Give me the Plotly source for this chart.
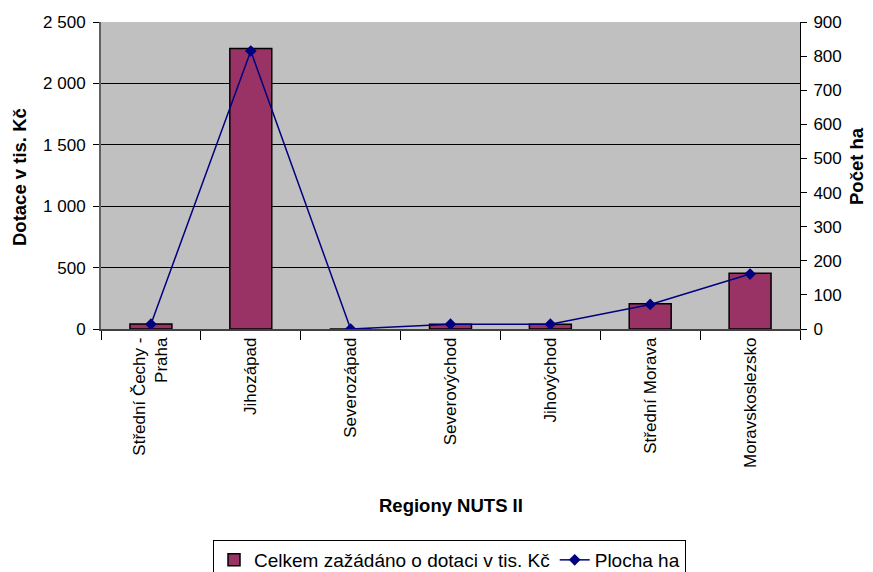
import plotly.graph_objects as go

categories = ["Střední Čechy -<br>Praha", "Jihozápad", "Severozápad", "Severovýchod",
              "Jihovýchod", "Střední Morava", "Moravskoslezsko"]
dotace = [40, 2285, 0, 38, 38, 205, 455]      # Celkem zažádáno o dotaci v tis. Kč
plocha = [14, 815, 0, 14, 14, 72, 161]         # Plocha ha
left_ticks = [0, 500, 1000, 1500, 2000, 2500]
left_tick_labels = ["0", "500", "1 000", "1 500", "2 000", "2 500"]
right_ticks = [0, 100, 200, 300, 400, 500, 600, 700, 800, 900]

FONT = "Liberation Sans, Arial, sans-serif"

fig = go.Figure()
fig.add_trace(go.Bar(
    x=categories, y=dotace, name="Celkem zažádáno o dotaci v tis. Kč",
    marker=dict(color="#993366", line=dict(color="#000000", width=1.5)),
    width=0.42, yaxis="y"))
fig.add_trace(go.Scatter(
    x=categories, y=plocha, name="Plocha ha", mode="lines+markers",
    line=dict(color="#000080", width=1.5),
    marker=dict(symbol="diamond", size=9, color="#000080"),
    yaxis="y2"))

# page body has an 8px margin: figure coords = screen coords - 8
OFF = 8
W, H = 873 - OFF, 572 - OFF
L, R, T, B = 101 - OFF, (873 - 800), 22 - OFF, (572 - 329)
pw = W - L - R
ph = H - T - B

def px(screen_x):
    return (screen_x - OFF - L) / pw

def py(screen_y):
    return (H - B - (screen_y - OFF)) / ph

fig.update_layout(
    width=W, height=H,
    margin=dict(l=L, r=R, t=T, b=B, pad=0, autoexpand=False),
    paper_bgcolor="white", plot_bgcolor="#c0c0c0",
    font=dict(family=FONT, size=17, color="black"),
    showlegend=True,
    xaxis=dict(
        type="category", tickangle=-90, showgrid=False, automargin=False,
        showline=True, linecolor="#404040", linewidth=1.5,
        ticks="outside", ticklen=9, tickcolor="black", tickson="boundaries",
        tickfont=dict(size=17, family=FONT), zeroline=False),
    yaxis=dict(
        range=[0, 2500], tickvals=left_ticks, ticktext=left_tick_labels,
        automargin=False,
        showgrid=True, gridcolor="black", gridwidth=1,
        showline=True, linecolor="#606060", linewidth=2,
        ticks="outside", ticklen=6, tickcolor="black", ticklabelstandoff=4,
        tickfont=dict(size=17, family=FONT), zeroline=False),
    yaxis2=dict(
        range=[0, 900], tickvals=right_ticks, overlaying="y", side="right",
        automargin=False,
        showgrid=False, showline=True, linecolor="black", linewidth=1,
        ticks="outside", ticklen=6, tickcolor="black", ticklabelstandoff=3,
        tickfont=dict(size=17, family=FONT), zeroline=False),
    legend=dict(
        orientation="h", x=px(213), xanchor="left",
        y=py(540), yanchor="top",
        bordercolor="black", borderwidth=1, bgcolor="white",
        font=dict(size=19, family=FONT),
        tracegroupgap=0),
)

annotations = [
    dict(text="<b>Dotace v tis. Kč</b>", xref="paper", yref="paper",
         x=px(19), y=py(177), textangle=-90, showarrow=False,
         font=dict(size=18.5, family=FONT), xanchor="center", yanchor="middle"),
    dict(text="<b>Počet ha</b>", xref="paper", yref="paper",
         x=px(856), y=py(166), textangle=-90, showarrow=False,
         font=dict(size=18.5, family=FONT), xanchor="center", yanchor="middle"),
    dict(text="<b>Regiony NUTS II</b>", xref="paper", yref="paper",
         x=px(451), y=py(505), showarrow=False,
         font=dict(size=18.5, family=FONT), xanchor="center", yanchor="middle"),
]
fig.update_layout(annotations=annotations)

fig.write_html("out.html")
